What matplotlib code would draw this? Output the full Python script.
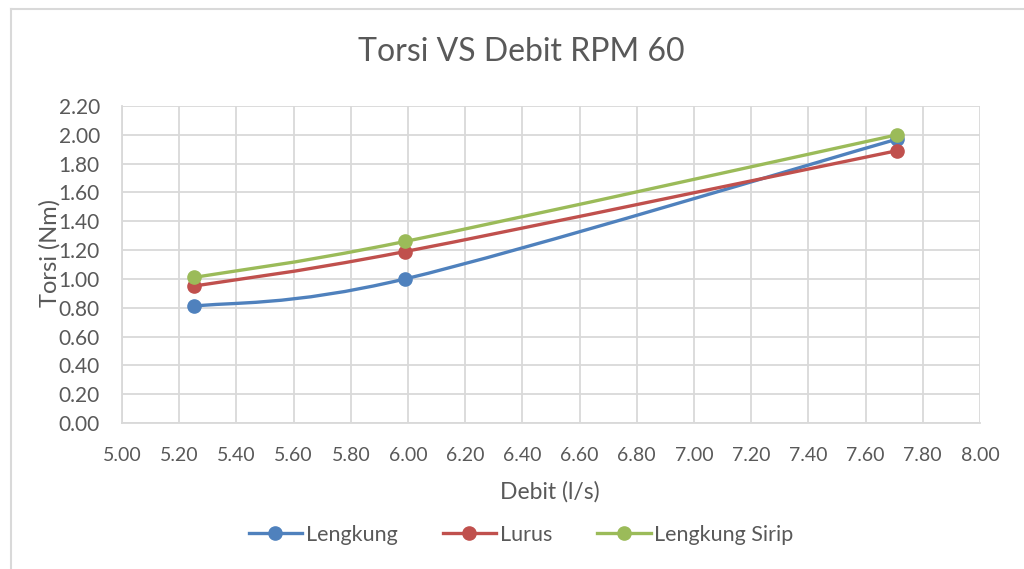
import matplotlib
matplotlib.use("Agg")
import matplotlib.pyplot as plt
from matplotlib.path import Path
from matplotlib.patches import PathPatch
from matplotlib.lines import Line2D
import numpy as np

plt.rcParams['font.family'] = ['Lato', 'DejaVu Sans']

# Data
debit = [5.25, 5.99, 7.71]
lengkung = [0.81, 1.00, 1.97]
lurus = [0.95, 1.19, 1.89]
lengkung_sirip = [1.01, 1.26, 2.00]

series_names = ["Lengkung", "Lurus", "Lengkung Sirip"]
series_values = [lengkung, lurus, lengkung_sirip]
colors = ["#4F81BD", "#C0504D", "#9BBB59"]

x_ticks = [5.00 + 0.2 * i for i in range(16)]
y_ticks = [0.2 * i for i in range(12)]

text_color = "#595959"
grid_color = "#D9D9D9"

fig = plt.figure(figsize=(10.24, 5.69), dpi=100)
ax = fig.add_axes([122 / 1024, 1 - 423 / 569, 858 / 1024, 317 / 569])


def smooth_path(xs, ys):
    pts = np.column_stack([xs, ys]).astype(float)
    n = len(pts)
    verts = [pts[0]]
    codes = [Path.MOVETO]
    for i in range(n - 1):
        p_prev = pts[i - 1] if i > 0 else pts[i]
        p0 = pts[i]
        p1 = pts[i + 1]
        p_next = pts[i + 2] if i + 2 < n else pts[i + 1]
        c1 = p0 + (p1 - p_prev) / 6.0
        c2 = p1 - (p_next - p0) / 6.0
        verts += [c1, c2, p1]
        codes += [Path.CURVE4] * 3
    return Path(verts, codes)


handles = []
for name, vals, col in zip(series_names, series_values, colors):
    patch = PathPatch(smooth_path(debit, vals), fill=False, edgecolor=col,
                      lw=2.4, capstyle='round', joinstyle='round', zorder=3)
    ax.add_patch(patch)
    ax.plot(debit, vals, linestyle='none', marker='o', markersize=9.5,
            color=col, zorder=4, clip_on=False)
    handles.append(Line2D([], [], color=col, lw=2.4, marker='o',
                          markersize=9.5, label=name))

ax.set_xlim(5.0, 8.0)
ax.set_ylim(0.0, 2.2)
ax.set_xticks(x_ticks)
ax.set_yticks(y_ticks)
ax.set_xticklabels([f"{v:.2f}" for v in x_ticks])
ax.set_yticklabels([f"{v:.2f}" for v in y_ticks])
ax.grid(True, color=grid_color, lw=1.3, zorder=0)
ax.set_axisbelow(True)
for s in ['top', 'right']:
    ax.spines[s].set_visible(False)
for s in ['left', 'bottom']:
    ax.spines[s].set_color(grid_color)
    ax.spines[s].set_linewidth(1.3)
ax.tick_params(axis='y', length=0, labelsize=15, colors=text_color, pad=16)
ax.tick_params(axis='x', length=0, labelsize=14, colors=text_color, pad=17)

fig.text(550 / 1024, 1 - 492 / 569, "Debit (l/s)", fontsize=16.5,
         color=text_color, ha='center', va='center')
fig.text(50 / 1024, 1 - 253 / 569, "Torsi (Nm)", rotation=90, fontsize=17,
         color=text_color, ha='center', va='center')
fig.text(521 / 1024, 1 - 52 / 569, "Torsi VS Debit RPM 60", fontsize=23,
         color=text_color, ha='center', va='center')

fig.legend(handles=handles, loc='center', bbox_to_anchor=(521 / 1024, 1 - 535 / 569),
           ncol=3, frameon=False, fontsize=15.5, handlelength=2.5,
           columnspacing=2.1, handletextpad=0.15, labelcolor=text_color)

# chart border
fig.add_artist(Line2D([11 / 1024, 11 / 1024], [0, 1 - 9 / 569], color=grid_color,
                      lw=1.5, transform=fig.transFigure))
fig.add_artist(Line2D([11 / 1024, 1], [1 - 9 / 569, 1 - 9 / 569], color=grid_color,
                      lw=1.5, transform=fig.transFigure))

fig.savefig("out.png", dpi=100)
